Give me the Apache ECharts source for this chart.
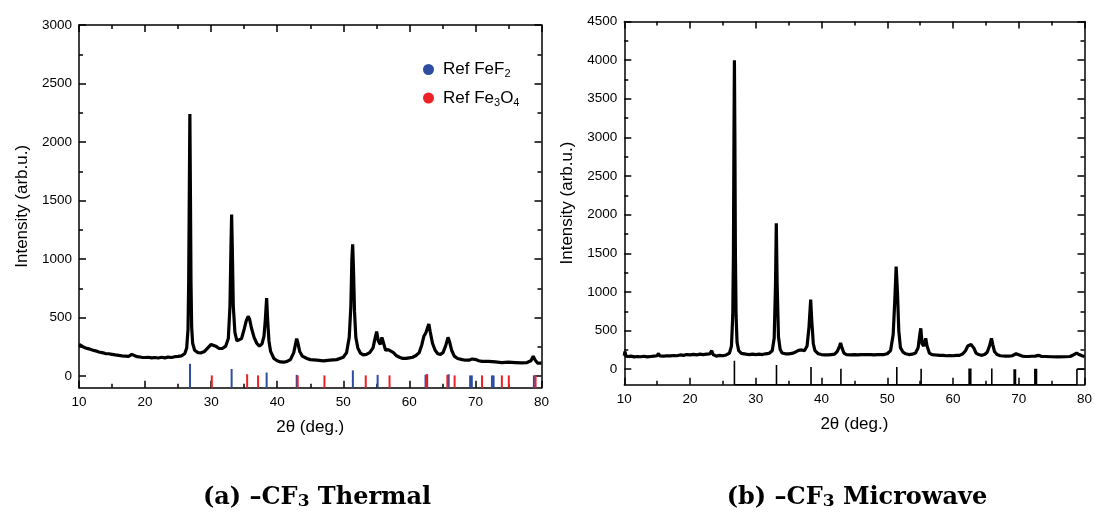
<!DOCTYPE html>
<html>
<head>
<meta charset="utf-8">
<script src="https://cdn.jsdelivr.net/npm/echarts@6/dist/echarts.min.js"></script>
<style>
html,body{margin:0;padding:0;background:#fff;}
#chart{width:1095px;height:517px;}
</style>
</head>
<body>
<div id="chart"></div>
<script>
// ---------- data ----------
const thermalPattern = [
[10.0,270],[10.3,255],[10.6,250],[11.0,240],[11.5,232],[12.0,222],[12.5,215],[13.0,205],[13.5,200],[14.0,192],
[14.5,190],[15.0,185],[15.5,180],[16.0,176],[16.5,172],[17.0,170],[17.5,168],[17.8,175],[18.0,185],[18.3,172],
[18.8,165],[19.5,160],[20.0,158],[20.5,160],[21.0,155],[21.5,158],[22.0,154],[22.5,160],[23.0,155],[23.5,162],
[24.0,158],[24.5,165],[25.0,168],[25.5,172],[26.0,190],[26.3,240],[26.5,400],[26.6,800],[26.7,1600],[26.78,2240],
[26.86,1600],[26.95,800],[27.05,420],[27.2,280],[27.5,220],[28.0,200],[28.5,198],[29.0,210],[29.5,240],[30.0,270],
[30.3,272],[30.7,255],[31.2,235],[31.7,235],[32.2,255],[32.6,320],[32.85,600],[33.0,1100],[33.1,1380],[33.2,1100],
[33.35,600],[33.6,370],[33.9,300],[34.2,285],[34.6,320],[35.0,400],[35.3,470],[35.6,510],[35.8,490],[36.1,410],
[36.5,330],[36.9,280],[37.3,255],[37.7,275],[38.0,340],[38.2,480],[38.4,665],[38.55,480],[38.75,300],[39.0,210],
[39.5,150],[40.0,130],[40.5,120],[41.0,118],[41.5,125],[42.0,140],[42.5,200],[42.8,280],[42.95,320],[43.1,290],
[43.4,210],[43.8,170],[44.5,150],[45.0,140],[46.0,135],[47.0,130],[48.0,135],[49.0,140],[50.0,160],[50.5,200],
[50.9,330],[51.15,600],[51.3,1000],[51.42,1125],[51.55,900],[51.7,550],[51.9,330],[52.2,240],[52.6,195],[53.0,180],
[53.5,185],[54.0,200],[54.5,240],[54.8,320],[55.05,380],[55.3,300],[55.6,270],[55.85,330],[56.05,290],[56.4,220],
[56.8,225],[57.1,235],[57.6,200],[58.0,175],[58.5,160],[59.0,150],[59.5,150],[60.0,155],[60.5,160],[61.0,175],
[61.5,200],[61.9,270],[62.2,340],[62.5,370],[62.8,420],[62.95,445],[63.15,380],[63.5,280],[63.9,220],[64.3,190],
[64.7,185],[65.1,200],[65.5,260],[65.85,330],[66.1,290],[66.4,220],[66.8,170],[67.3,150],[68.0,140],[68.5,135],
[69.0,135],[69.5,145],[69.8,160],[70.1,140],[70.5,130],[71.0,125],[72.0,125],[73.0,120],[74.0,115],[75.0,118],
[76.0,115],[77.0,112],[77.8,115],[78.4,130],[78.75,170],[79.0,140],[79.4,110],[80.0,110]
];
const microwavePattern = [
[10.0,175],[10.1,230],[10.25,170],[10.6,165],[11.0,170],[11.5,160],[12.0,165],[12.5,162],[13.0,168],[13.5,160],
[14.0,165],[14.5,170],[15.0,175],[15.2,205],[15.4,172],[16.0,170],[16.5,175],[17.0,172],[17.5,178],[18.0,175],
[18.5,185],[19.0,180],[19.5,190],[20.0,185],[20.5,192],[21.0,185],[21.5,195],[22.0,190],[22.5,195],[23.0,200],
[23.3,240],[23.5,190],[24.0,170],[24.5,180],[25.0,175],[25.5,185],[26.0,210],[26.3,300],[26.5,700],[26.6,1500],
[26.68,3000],[26.75,4000],[26.82,3000],[26.9,1500],[27.0,700],[27.15,350],[27.4,240],[27.8,205],[28.5,195],[29.0,190],
[29.5,195],[30.0,190],[30.5,195],[31.0,190],[31.5,200],[32.0,205],[32.5,240],[32.8,400],[33.0,1100],[33.12,1890],
[33.25,1100],[33.45,420],[33.7,260],[34.0,210],[34.5,200],[35.0,200],[35.5,205],[36.0,220],[36.5,245],[37.0,250],
[37.4,240],[37.8,300],[38.1,550],[38.35,900],[38.5,650],[38.75,330],[39.0,240],[39.5,200],[40.0,190],[40.5,185],
[41.0,185],[41.5,190],[42.0,195],[42.4,230],[42.75,300],[42.9,340],[43.1,280],[43.4,210],[43.8,190],[44.5,185],
[45.0,190],[45.5,185],[46.0,190],[46.5,190],[47.0,188],[47.5,190],[48.0,185],[48.5,190],[49.0,188],[49.5,190],
[50.0,200],[50.5,240],[50.9,450],[51.15,900],[51.35,1330],[51.55,1000],[51.75,500],[52.0,280],[52.4,220],[52.8,200],
[53.3,190],[53.8,195],[54.3,210],[54.7,280],[54.95,450],[55.1,530],[55.3,330],[55.55,300],[55.85,400],[56.05,300],
[56.4,210],[56.8,190],[57.3,185],[58.0,180],[58.5,180],[59.0,175],[59.5,178],[60.0,175],[60.5,180],[61.0,180],
[61.5,200],[61.9,240],[62.25,300],[62.5,280],[62.75,320],[62.95,340],[63.2,270],[63.5,210],[63.9,190],[64.3,180],
[64.8,190],[65.2,220],[65.55,300],[65.85,400],[66.05,320],[66.3,230],[66.7,190],[67.2,175],[68.0,170],[68.5,170],
[69.0,175],[69.6,200],[69.9,175],[70.5,170],[71.0,165],[71.5,165],[72.0,168],[72.5,170],[73.0,180],[73.5,165],
[74.0,165],[75.0,162],[76.0,160],[77.0,162],[77.8,165],[78.3,185],[78.8,210],[79.2,190],[79.6,175],[80.0,165]
];
const refFeF2 = [[26.8,105],[33.1,60],[38.4,30],[42.95,10],[51.45,48],[55.2,10],[62.45,10],[62.7,15],[65.95,15],
  [69.2,5],[69.45,5],[72.5,5],[72.75,5],[78.85,5]];
const refFe3O4 = [[30.1,5],[35.45,15],[37.1,5],[43.1,5],[47.15,5],[53.4,5],[57.0,5],[62.6,15],[65.75,10],[66.85,5],
  [71.0,5],[74.0,5],[75.05,5],[79.1,5]];
const microwaveSticks = [[26.75,110],[33.15,55],[38.4,30],[42.95,5],[51.45,30],[55.15,5],[62.45,10],[62.7,10],
  [65.9,10],[69.3,0],[69.5,0],[72.45,5],[72.7,5],[78.85,0]];
const xTicks = [10,20,30,40,50,60,70,80];
const thermalYTicks = [0,500,1000,1500,2000,2500,3000];
const thermalYMinor = [250,750,1250,1750,2250,2750];
const microwaveYTicks = [0,500,1000,1500,2000,2500,3000,3500,4000,4500];
const microwaveYMinor = [250,750,1250,1750,2250,2750,3250,3750,4250];
const thermalYRange = [-100,3000];
const microwaveYRange = [-200,4500];

// ---------- styling helpers ----------
const FONT = 'Liberation Sans, Arial, sans-serif';
const AX = {color:'#000', width:1.5};
function xAx(grid, pos, labels){
  return {
    gridIndex:grid, type:'value', position:pos, min:xTicks[0], max:xTicks[xTicks.length-1],
    interval:xTicks[1]-xTicks[0],
    axisLine:{show:true, onZero:false, lineStyle:AX},
    axisTick:{show:true, inside:true, length:7, lineStyle:AX},
    minorTick:{show:true, splitNumber:2, length:4, lineStyle:AX},
    splitLine:{show:false}, minorSplitLine:{show:false},
    axisLabel:{show:labels, margin:8, fontSize:13.5, color:'#000', fontFamily:FONT,
      formatter:function(v){ return String(v); }},
    name: labels ? '2θ (deg.)' : '', nameLocation:'middle', nameGap:31,
    nameTextStyle:{fontSize:17, color:'#000', fontFamily:FONT}
  };
}
function yAx(grid, pos, range, values, major, labels){
  return {
    gridIndex:grid, type:'value', position:pos, min:range[0], max:range[1],
    axisLine:{show:major, onZero:false, lineStyle:AX},
    axisTick:{show:true, inside:true, length: major ? 7 : 4, lineStyle:AX, customValues:values},
    splitLine:{show:false},
    axisLabel:{show:labels, margin:7, fontSize:13.5, color:'#000', fontFamily:FONT, customValues:values,
      formatter:function(v){ return String(v); }},
    name: labels ? 'Intensity (arb.u.)' : '', nameLocation:'middle', nameGap:48,
    nameTextStyle:{fontSize:17, color:'#000', fontFamily:FONT}
  };
}
function sticks(name, data, base, color, xi, yi){
  return {
    type:'custom', name:name, xAxisIndex:xi, yAxisIndex:yi, data:data,
    itemStyle:{color:color}, encode:{x:0, y:1}, z:1,
    renderItem:function(params, api){
      const x = api.value(0), h = api.value(1);
      const p0 = api.coord([x, base]), p1 = api.coord([x, h]);
      return {type:'line', shape:{x1:p0[0], y1:p0[1], x2:p1[0], y2:p1[1]},
              style:{stroke:color, lineWidth:2}};
    }
  };
}
// microwave reference pattern drawn as one stick polyline
const mwLine = [];
microwaveSticks.forEach(function(s, i){
  mwLine.push([s[0], microwaveYRange[0]]);
  mwLine.push([s[0], s[1]]);
  if (i < microwaveSticks.length-1) mwLine.push([s[0], microwaveYRange[0]]);
  else mwLine.push([xTicks[xTicks.length-1], s[1]]);
});

const chart = echarts.init(document.getElementById('chart'), null, {renderer:'canvas'});
chart.setOption({
  animation:false,
  backgroundColor:'#fff',
  grid:[
    {left:79, top:25, width:462.5, height:362.7},
    {left:624.3, top:21.5, width:462.7, height:363.2}
  ],
  xAxis:[ xAx(0,'bottom',true), xAx(0,'top',false), xAx(1,'bottom',true), xAx(1,'top',false) ],
  yAxis:[
    yAx(0,'left',thermalYRange,thermalYTicks,true,true),
    yAx(0,'left',thermalYRange,thermalYMinor,false,false),
    yAx(0,'right',thermalYRange,thermalYTicks,true,false),
    yAx(0,'right',thermalYRange,thermalYMinor,false,false),
    yAx(1,'left',microwaveYRange,microwaveYTicks,true,true),
    yAx(1,'left',microwaveYRange,microwaveYMinor,false,false),
    yAx(1,'right',microwaveYRange,microwaveYTicks,true,false),
    yAx(1,'right',microwaveYRange,microwaveYMinor,false,false)
  ],
  legend:{
    data:['Ref FeF2','Ref Fe3O4'], orient:'vertical', left:418, top:56,
    icon:'circle', itemWidth:11, itemHeight:12, itemGap:10,
    formatter:function(n){ return n==='Ref FeF2' ? 'Ref FeF{s|2}' : 'Ref Fe{s|3}O{s|4}'; },
    textStyle:{fontSize:17, color:'#000', fontFamily:FONT, padding:[0,0,0,4],
      rich:{s:{fontSize:11, color:'#000', fontFamily:FONT, padding:[9,0,0,0]}}}
  },
  graphic:[
    {type:'text', x:317, y:498, style:{text:'{a|(a) –CF}{s|3}{a| Thermal}', align:'center', verticalAlign:'middle',
      rich:{a:{fontSize:24, fontWeight:'bold', fontFamily:'DejaVu Serif', fill:'#000'},
            s:{fontSize:17, fontWeight:'bold', fontFamily:'DejaVu Serif', fill:'#000', padding:[8,0,0,0]}}}},
    {type:'text', x:857, y:498, style:{text:'{a|(b) –CF}{s|3}{a| Microwave}', align:'center', verticalAlign:'middle',
      rich:{a:{fontSize:24, fontWeight:'bold', fontFamily:'DejaVu Serif', fill:'#000'},
            s:{fontSize:17, fontWeight:'bold', fontFamily:'DejaVu Serif', fill:'#000', padding:[8,0,0,0]}}}}
  ],
  series:[
    sticks('Ref FeF2', refFeF2, thermalYRange[0], '#2d4da3', 0, 0),
    sticks('Ref Fe3O4', refFe3O4, thermalYRange[0], '#ec2227', 0, 0),
    {type:'line', name:'thermal', xAxisIndex:0, yAxisIndex:0, data:thermalPattern, showSymbol:false,
     lineStyle:{color:'#000', width:3.2}, itemStyle:{color:'#000'}, z:3},
    {type:'line', name:'mwsticks', xAxisIndex:2, yAxisIndex:4, data:mwLine, showSymbol:false,
     lineStyle:{color:'#000', width:1.6}, itemStyle:{color:'#000'}, z:2},
    {type:'line', name:'microwave', xAxisIndex:2, yAxisIndex:4, data:microwavePattern, showSymbol:false,
     lineStyle:{color:'#000', width:3.2}, itemStyle:{color:'#000'}, z:3}
  ]
});
</script>
</body>
</html>
